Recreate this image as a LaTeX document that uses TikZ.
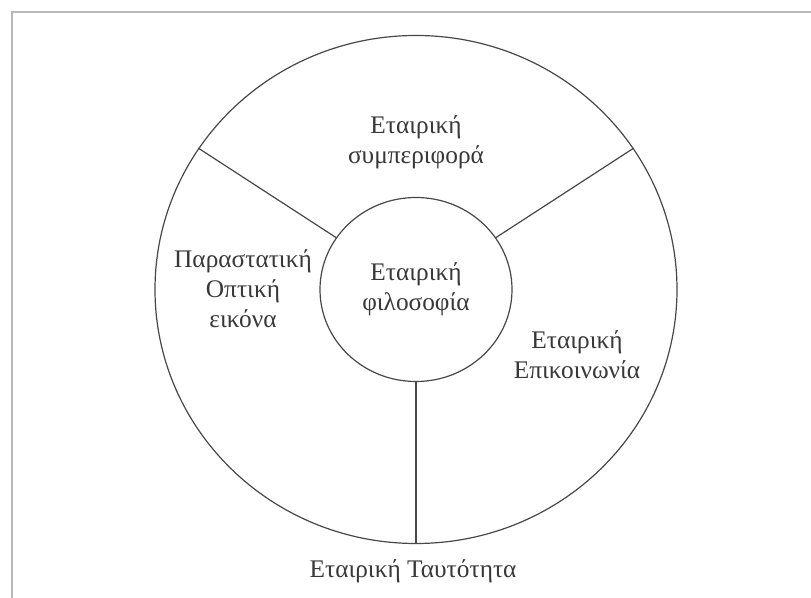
\documentclass[tikz,border=0pt]{standalone}
\usepackage{fontspec}
\setmainfont{Liberation Serif}
\usetikzlibrary{shapes.geometric}
\tikzset{ring/.style={draw=black!72, line width=0.9pt, ellipse, inner sep=0pt},
  ringtext/.style={align=center, text=black!78, font=\fontsize{19}{22.5}\selectfont}
}

\begin{document}
\begin{tikzpicture}[x=0.75pt,y=-0.75pt]
      \useasboundingbox (0,0) rectangle (811,598);
      \draw[gray!55, line width=1.5pt] (12,598) -- (12,12) -- (811,12);
      \node[ring, minimum width=391.5pt, minimum height=381pt] (outer) at (416,289.5) {};
      \node[ring, ringtext, minimum width=144pt, minimum height=138pt] (core) at (416,289.5) {Εταιρική\\φιλοσοφία};
      \draw[black!72, line width=0.9pt] (core.147) -- (outer.147);
      \draw[black!72, line width=0.9pt] (core.33) -- (outer.33);
      \draw[black!72, line width=0.9pt] (core.south) -- (outer.south);
      \node[ringtext] (behaviour) at (416,142) {Εταιρική\\συμπεριφορά};
      \node[ringtext] (visual) at (243,289) {Παραστατική\\Οπτική\\εικόνα};
      \node[ringtext] (communication) at (577,355) {Εταιρική\\Επικοινωνία};
      \node[ringtext] (identity) at (413,571) {Εταιρική Ταυτότητα};
    \end{tikzpicture}
\end{document}
